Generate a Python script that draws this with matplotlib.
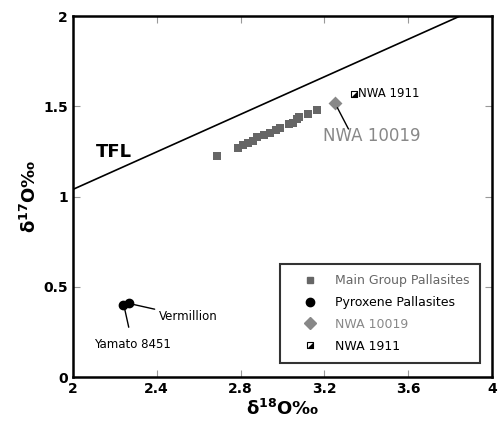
import numpy as np
import matplotlib.pyplot as plt
from matplotlib.lines import Line2D

# --- Data ---
mg_d18 = [2.69, 2.79, 2.81, 2.835, 2.86, 2.88, 2.91, 2.94, 2.97, 2.99,
          3.03, 3.05, 3.07, 3.08, 3.12, 3.165]
mg_d17 = [1.224, 1.27, 1.285, 1.30, 1.31, 1.33, 1.34, 1.355, 1.37, 1.38,
          1.40, 1.41, 1.43, 1.44, 1.46, 1.48]
pyx_d18 = [2.24, 2.27]
pyx_d17 = [0.40, 0.41]
nwa10019 = (3.25, 1.52)
nwa1911 = (3.34, 1.57)
tfl_slope = 0.52

GRAY = "#666666"
LGRAY = "#888888"

fig = plt.figure(figsize=(4.99, 4.37), dpi=100)
ax = fig.add_axes([0.146, 0.137, 0.84, 0.826])

# TFL
xs = np.array([2.0, 2.0 / tfl_slope])
ax.plot(xs, tfl_slope * xs, color="black", lw=1.2, zorder=1)
ax.text(2.11, 1.245, "TFL", fontsize=13, fontweight="bold", va="center")

# points
ax.scatter(mg_d18, mg_d17, marker="s", s=38, color=GRAY, linewidths=0, zorder=3)
ax.scatter(pyx_d18, pyx_d17, marker="o", s=36, color="black", zorder=3)
ax.scatter([nwa10019[0]], [nwa10019[1]], marker="D", s=50, color=LGRAY,
           linewidths=0, zorder=3)
tri = [(-1, -1), (1, 1), (1, -1), (-1, -1)]
ax.scatter([nwa1911[0]], [nwa1911[1]], marker="s", s=24, facecolor="white",
           edgecolor="black", linewidths=0.8, zorder=3)
ax.scatter([nwa1911[0]], [nwa1911[1]], marker=tri, s=24, color="black",
           linewidths=0, zorder=4)

# labels
ax.annotate("", xy=nwa10019, xytext=(3.315, 1.375),
            arrowprops=dict(arrowstyle="-", color="black", lw=1,
                            shrinkA=0, shrinkB=4))
ax.text(3.425, 1.335, "NWA 10019", fontsize=12, color=LGRAY,
        ha="center", va="center")
ax.text(nwa1911[0] + 0.02, nwa1911[1], "NWA 1911", fontsize=8.5, va="center")
ax.annotate("Vermillion", xy=(pyx_d18[1] + 0.01, pyx_d17[1] - 0.005),
            xytext=(2.41, 0.335), fontsize=8.5, va="center", ha="left",
            arrowprops=dict(arrowstyle="-", color="black", lw=1,
                            shrinkA=1, shrinkB=0))
ax.annotate("Yamato 8451", xy=(pyx_d18[0] + 0.005, pyx_d17[0] - 0.01),
            xytext=(2.285, 0.18), fontsize=8.5, va="center", ha="center",
            arrowprops=dict(arrowstyle="-", color="black", lw=1,
                            shrinkA=6, shrinkB=0))

ax.set_xlim(2, 4)
ax.set_ylim(0, 2)
ax.set_xticks([2, 2.4, 2.8, 3.2, 3.6, 4])
ax.set_xticklabels(["2", "2.4", "2.8", "3.2", "3.6", "4"])
ax.set_yticks([0, 0.5, 1, 1.5, 2])
ax.set_yticklabels(["0", "0.5", "1", "1.5", "2"])
ax.tick_params(direction="in", top=True, right=True, length=5, width=0.8,
               color="#999999", labelsize=10)
for lab in ax.get_xticklabels() + ax.get_yticklabels():
    lab.set_fontweight("bold")
for sp in ax.spines.values():
    sp.set_linewidth(1.8)

ax.set_xlabel(r"$\mathbf{\delta^{18}O}$‰", fontsize=13, fontweight="bold", labelpad=2)
ax.set_ylabel(r"$\mathbf{\delta^{17}O}$‰", fontsize=13, fontweight="bold", labelpad=2)

h1911 = (Line2D([], [], ls="", marker="s", ms=5, mfc="white", mec="black", mew=0.8),
         Line2D([], [], ls="", marker=tri, ms=5, color="black", mew=0))
handles = [
    Line2D([], [], ls="", marker="s", ms=5, color=GRAY, mec=GRAY),
    Line2D([], [], ls="", marker="o", ms=6, color="black"),
    Line2D([], [], ls="", marker="D", ms=6, color=LGRAY, mec=LGRAY),
    h1911,
]
leg = ax.legend(handles, ["Main Group Pallasites", "Pyroxene Pallasites",
                          "NWA 10019", "NWA 1911"],
                loc="lower right", bbox_to_anchor=(0.98, 0.03),
                prop={"size": 9}, frameon=True, fancybox=False,
                handlelength=3.2, handletextpad=0.4,
                borderpad=0.8, labelspacing=0.7, borderaxespad=0.3)
leg.get_frame().set_edgecolor("black")
leg.get_frame().set_linewidth(1.5)
for t, c in zip(leg.get_texts(), [GRAY, "black", LGRAY, "black"]):
    t.set_color(c)

plt.savefig("out.png", dpi=100)
